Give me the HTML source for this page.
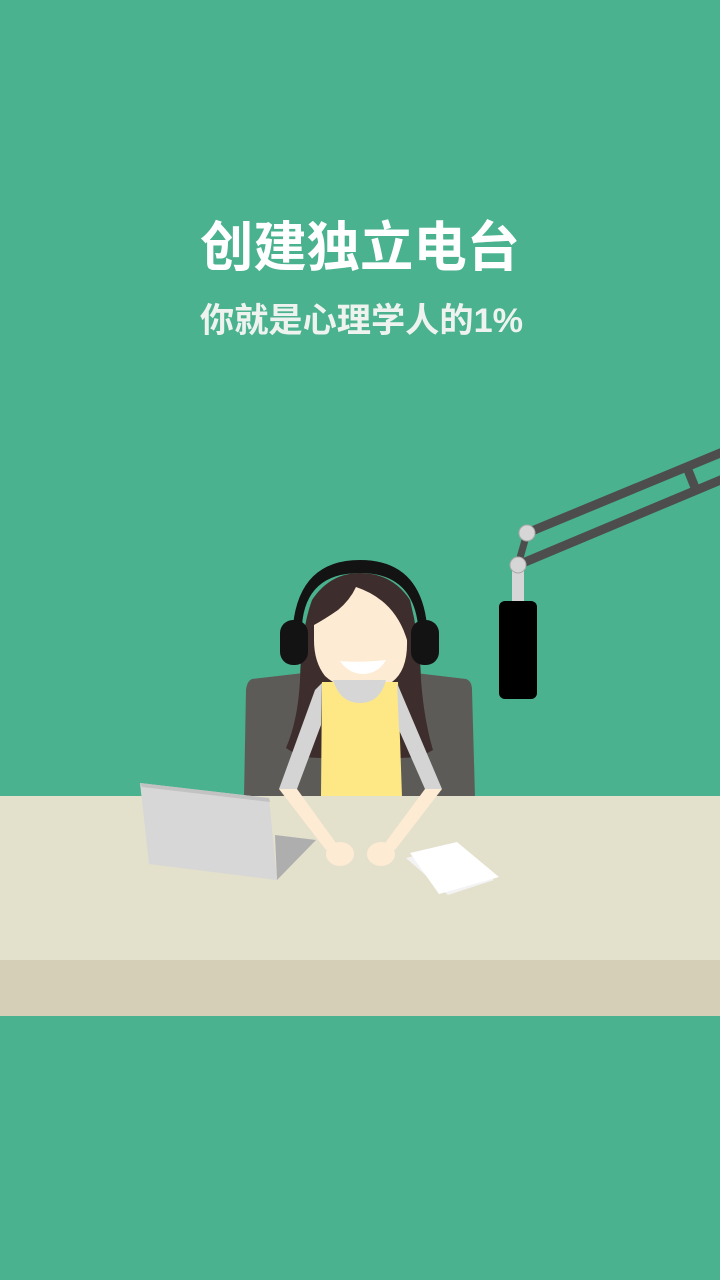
<!DOCTYPE html>
<html><head><meta charset="utf-8">
<style>
html,body{margin:0;padding:0;background:#4ab28e;}
svg{display:block;}
</style></head>
<body>
<svg width="720" height="1280" viewBox="0 0 720 1280" xmlns="http://www.w3.org/2000/svg">
  <rect x="0" y="0" width="720" height="1280" fill="#4ab28e"/>
  <text x="200" y="266" textLength="320" lengthAdjust="spacingAndGlyphs" font-family="'Liberation Sans','Noto Sans CJK SC',sans-serif" font-weight="bold" font-size="54" fill="#ffffff">创建独立电台</text>
  <text x="200" y="332" textLength="323" lengthAdjust="spacingAndGlyphs" font-family="'Liberation Sans','Noto Sans CJK SC',sans-serif" font-weight="bold" font-size="34" fill="#eef3f0">你就是心理学人的1%</text>

  <g>
    <line x1="527" y1="533" x2="730" y2="449" stroke="#4d4d4d" stroke-width="9"/>
    <line x1="518" y1="565" x2="730" y2="476" stroke="#4d4d4d" stroke-width="9"/>
    <line x1="688" y1="470" x2="696" y2="490" stroke="#4d4d4d" stroke-width="9"/>
    <line x1="527" y1="533" x2="518" y2="565" stroke="#4d4d4d" stroke-width="7"/>
    <rect x="512" y="565" width="12" height="38" fill="#d6d6d6"/>
    <circle cx="527" cy="533" r="8" fill="#d6d6d6" stroke="#aaa" stroke-width="1"/>
    <circle cx="518" cy="565" r="8" fill="#d6d6d6" stroke="#aaa" stroke-width="1"/>
    <rect x="499" y="601" width="38" height="98" rx="6" fill="#000"/>
  </g>

  <path d="M252 679 L330 670 L390 670 L466 679 Q472 681 472 690 L475 797 L244 797 L246 690 Q247 681 252 679 Z" fill="#5d5b58"/>

  <path d="M312 600 Q330 573 360 573 Q392 573 410 600 Q420 640 421 680 Q424 720 433 750 L420 757 L360 760 L300 757 L286 748 Q298 720 300 680 Q301 630 312 600 Z" fill="#3e2d2d"/>
  <path d="M293 625 Q300 560 360 560 Q420 560 427 625 L418 625 Q412 573 360 573 Q306 573 302 625 Z" fill="#131313"/>
  <rect x="280" y="620" width="28" height="45" rx="13" fill="#131313"/>
  <rect x="411" y="620" width="28" height="45" rx="13" fill="#131313"/>

  <path d="M314 625 Q325 619 338 610 Q350 600 356 587 Q395 600 407 640 Q408 670 392 682 Q378 690 360 690 Q338 688 325 676 Q314 662 314 640 Z" fill="#feebd4"/>
  <path d="M340 661 Q360 663 386 660 Q378 674 362 674 Q348 673 340 661 Z" fill="#ffffff"/>

  <path d="M322 682 L398 682 L402 797 L321 797 Z" fill="#fee886"/>
  <path d="M333 680 L386 680 Q380 703 360 703 Q340 703 333 680 Z" fill="#d6d6d6"/>
  <path d="M322 683 L321 725 L297 789 L279 789 L315 690 Z" fill="#d4d4d4"/>
  <path d="M397 683 L442 789 L425 789 L399 730 Z" fill="#d4d4d4"/>

  <rect x="0" y="796" width="720" height="165" fill="#e3e0cc"/>
  <rect x="0" y="960" width="720" height="56" fill="#d6cfb7"/>

  <path d="M279 789 L297 789 L336 843 L326 850 Z" fill="#feebd4"/>
  <ellipse cx="340" cy="854" rx="14" ry="12" fill="#feebd4"/>
  <path d="M425 789 L442 789 L395 850 L385 843 Z" fill="#feebd4"/>
  <ellipse cx="381" cy="854" rx="14" ry="12" fill="#feebd4"/>

  <path d="M275 835 L316 840 L277 880 Z" fill="#aeaeae"/>
  <path d="M140 783 L269 798 L277 880 L149 864 Z" fill="#d7d7d7"/>
  <path d="M140 783 L269 798 L270 802 L142 787 Z" fill="#c2c2c2"/>

  <path d="M406 858 L452 847 L494 880 L448 895 Z" fill="#f3f3f3"/>
  <path d="M410 853 L457 842 L499 877 L439 894 Z" fill="#ffffff"/>
</svg>
</body></html>
